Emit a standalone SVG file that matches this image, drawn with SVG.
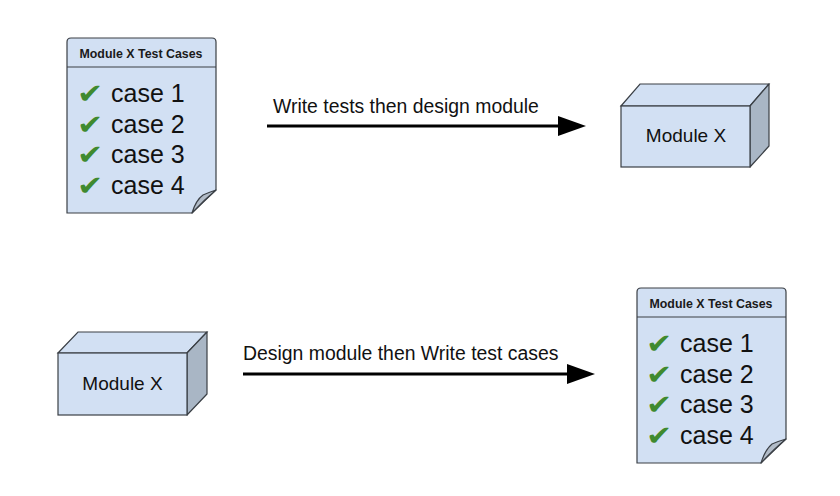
<svg xmlns="http://www.w3.org/2000/svg" width="840" height="496" viewBox="0 0 840 496">
<defs>
<style>
.body{fill:#d2e0f3;stroke:#3a3f45;stroke-width:1.2}
.side{fill:#a9b6c5;stroke:#3a3f45;stroke-width:1.2;stroke-linejoin:round}
.fold{fill:#b2bcc8;stroke:#3a3f45;stroke-width:1.2;stroke-linejoin:round}
.hdr{font-family:"Liberation Sans",Arial,sans-serif;font-weight:bold;font-size:12.4px;fill:#1a1a1a;text-anchor:middle}
.case{font-family:"Liberation Sans",Arial,sans-serif;font-size:25px;fill:#111}
.chk{font-family:"DejaVu Sans",sans-serif;font-size:25px;fill:#3f8a2f}
.lbl{font-family:"Liberation Sans",Arial,sans-serif;font-size:19.4px;fill:#111}
.mod{font-family:"Liberation Sans",Arial,sans-serif;font-size:19px;fill:#111;text-anchor:middle}
.conn{stroke:#000;stroke-width:3;fill:none}
</style>
</defs>
<rect width="840" height="496" fill="#fff"/>

<g id="tests-top">
<path class="body" d="M67,42 Q67,38 71,38 L212,38 Q216,38 216,42 L216,190 L192,213 L67,213 Z"/>
<line x1="67" y1="67" x2="216" y2="67" stroke="#3a3f45" stroke-width="1.2"/>
<path class="fold" d="M192,213 Q196,200 203,195 Q210,192 216,190 Q204,200 192,213 Z"/>
<text class="hdr" x="141" y="58">Module X Test Cases</text>
<text class="chk" transform="translate(77,103) scale(1.25,1.1)">✔</text><text class="case" x="111" y="102">case 1</text>
<text class="chk" transform="translate(77,133.5) scale(1.25,1.1)">✔</text><text class="case" x="111" y="132.5">case 2</text>
<text class="chk" transform="translate(77,164) scale(1.25,1.1)">✔</text><text class="case" x="111" y="163">case 3</text>
<text class="chk" transform="translate(77,194.5) scale(1.25,1.1)">✔</text><text class="case" x="111" y="193.5">case 4</text>
</g>

<g id="module-top">
<path class="body" d="M621,106 L640,84 L769,84 L750,106 Z"/>
<path class="side" d="M750,106 L769,84 L769,146 L750,167 Z"/>
<rect class="body" x="621" y="106" width="129" height="61"/>
<text class="mod" x="686" y="142">Module X</text>
</g>

<g id="module-bottom">
<path class="body" d="M58,353 L78,332 L207,332 L187,353 Z"/>
<path class="side" d="M187,353 L207,332 L207,394 L187,415 Z"/>
<rect class="body" x="58" y="353" width="129" height="62"/>
<text class="mod" x="122.5" y="390">Module X</text>
</g>

<g id="tests-bottom">
<path class="body" d="M637,292 Q637,288 641,288 L782,288 Q786,288 786,292 L786,439 L761,463 L637,463 Z"/>
<line x1="637" y1="317" x2="786" y2="317" stroke="#3a3f45" stroke-width="1.2"/>
<path class="fold" d="M761,463 Q765,450 772,444 Q779,441 786,439 Q774,449 761,463 Z"/>
<text class="hdr" x="711" y="308">Module X Test Cases</text>
<text class="chk" transform="translate(646,353) scale(1.25,1.1)">✔</text><text class="case" x="680" y="352">case 1</text>
<text class="chk" transform="translate(646,383.5) scale(1.25,1.1)">✔</text><text class="case" x="680" y="382.5">case 2</text>
<text class="chk" transform="translate(646,414) scale(1.25,1.1)">✔</text><text class="case" x="680" y="413">case 3</text>
<text class="chk" transform="translate(646,444.5) scale(1.25,1.1)">✔</text><text class="case" x="680" y="443.5">case 4</text>
</g>

<g id="connectors">
<line class="conn" x1="267" y1="126" x2="559" y2="126"/>
<path d="M558,116 L586,126 L558,136 Z" fill="#000"/>
<text class="lbl" x="273" y="113">Write tests then design module</text>
<line class="conn" x1="243" y1="374" x2="568" y2="374"/>
<path d="M567,364 L595,374 L567,384 Z" fill="#000"/>
<text class="lbl" x="243" y="360">Design module then Write test cases</text>
</g>
</svg>
